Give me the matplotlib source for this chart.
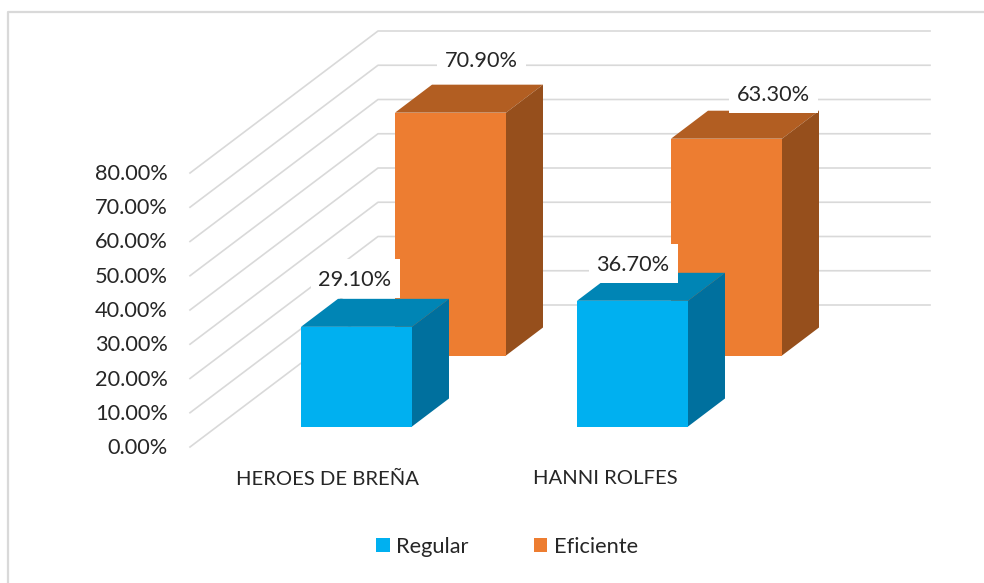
import matplotlib
matplotlib.use("Agg")
import matplotlib.pyplot as plt
from matplotlib.patches import Patch, Polygon, Rectangle

plt.rcParams["font.family"] = ["Lato", "DejaVu Sans"]

categories = ["HEROES DE BREÑA", "HANNI ROLFES"]
series_names = ["Regular", "Eficiente"]
regular = [29.1, 36.7]
eficiente = [70.9, 63.3]
ticks = [0, 10, 20, 30, 40, 50, 60, 70, 80]

# 3d look is faked with an oblique projection, all in image pixels
PX_PER_PCT = 3.425
WALL_X, WALL_Y = 190, 447
DEPTH_X, DEPTH_Y = 188, -142
BAR_W = 111
BAR_DX, BAR_DY = 37, -28
GROUP_X = [301, 577]
GRID = "#d9d9d9"
TEXT = "#262626"
FONT = 15.7
CAT_FONT = 14.6

FACES = {
    "Regular": ("#00b0f0", "#0085b5", "#00709e"),
    "Eficiente": ("#ed7d31", "#b25e22", "#964f1c"),
}


def val_y(base, v):
    return base - v * PX_PER_PCT


def draw_bar(x, base, v, colors, z):
    front, top, side = colors
    t = val_y(base, v)
    r = x + BAR_W
    ax.add_patch(Polygon([(x, t), (x + BAR_DX, t + BAR_DY), (r + BAR_DX, t + BAR_DY), (r, t)], fc=top, ec="none", zorder=z))
    ax.add_patch(Polygon([(r, t), (r + BAR_DX, t + BAR_DY), (r + BAR_DX, base + BAR_DY), (r, base)], fc=side, ec="none", zorder=z))
    ax.add_patch(Rectangle((x, t), BAR_W, base - t, fc=front, ec="none", zorder=z))


fig = plt.figure(figsize=(9.84, 5.83), dpi=100)
ax = fig.add_axes([0, 0, 1, 1])
ax.set_xlim(0, 984)
ax.set_ylim(583, 0)
ax.axis("off")

# chart border, only left and top show in the crop
ax.plot([8, 8, 984], [583, 12, 12], color=GRID, lw=1.6, zorder=1)

# side wall + back wall gridlines
for t in ticks:
    y = val_y(WALL_Y, t)
    ax.plot([WALL_X, WALL_X + DEPTH_X, 930], [y, y + DEPTH_Y, y + DEPTH_Y], color=GRID, lw=1.2, zorder=1)
    ax.text(168, y + 1, f"{t:.2f}%", ha="right", va="center", fontsize=FONT, color=TEXT)

# back row first, front row over it
for i, v in enumerate(eficiente):
    draw_bar(GROUP_X[i] + 94, 355.5, v, FACES["Eficiente"], 2)
for i, v in enumerate(regular):
    draw_bar(GROUP_X[i], 426.5, v, FACES["Regular"], 3)

# data labels have a white box that cuts into the bars
label_pos = [(355, 278), (633, 263), (481, 59), (773, 93)]
for (lx, ly), v in zip(label_pos, regular + eficiente):
    ax.add_patch(Rectangle((lx - 44.5, ly - 19.5), 89, 39, fc="white", ec="none", zorder=4))
    ax.text(lx, ly + 2, f"{v:.2f}%", ha="center", va="center", fontsize=FONT, color=TEXT, zorder=5)

for x, name in zip([328, 605], categories):
    ax.text(x, 479, name, ha="center", va="center", fontsize=CAT_FONT, color=TEXT)

handles = [Patch(fc=FACES[n][0], ec="none", label=n) for n in series_names]
ax.legend(handles=handles, ncol=2, loc="center", bbox_to_anchor=(507 / 984, 1 - 547 / 583), frameon=False,
          fontsize=FONT, labelcolor=TEXT, handlelength=0.62, handleheight=0.62, handletextpad=0.3, columnspacing=3.0)

fig.savefig("out.png", dpi=100)
